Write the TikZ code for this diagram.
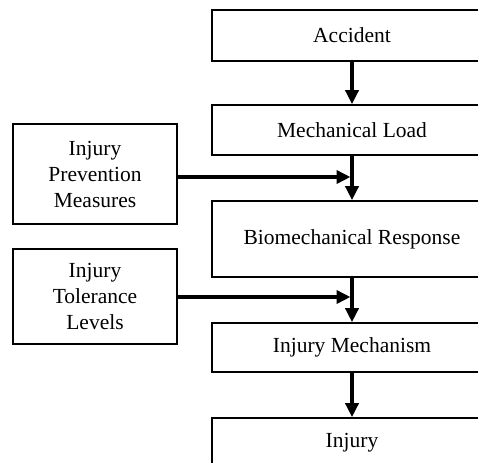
\documentclass[tikz,border=0pt]{standalone}
\usepackage{fontspec}
\setmainfont{Liberation Serif}
\usetikzlibrary{arrows.meta}
\begin{document}
\begin{tikzpicture}[x=1pt,y=-1pt,
  box/.style={draw,line width=1.6pt,fill=white,align=center,inner sep=0pt,
    font=\fontsize{21.5}{26}\selectfont},
  rbox/.style={box,minimum width=280pt},
  lbox/.style={box,minimum width=164pt},
  arr/.style={line width=3.5pt,-{Triangle[length=14pt,width=13pt]}}]
\useasboundingbox (0,0) rectangle (478,462);
\clip (0,0) rectangle (478,462);
\fill[white] (0,0) rectangle (478,462);
\node[rbox,minimum height=51pt] (acc) at (352,35.5) {Accident};
\node[rbox,minimum height=50pt] (mech) at (352,130) {Mechanical Load};
\node[rbox,minimum height=76pt] (bio) at (352,239) {Biomechanical Response};
\node[rbox,minimum height=49pt] (imech) at (352,347.5) {Injury Mechanism};
\node[rbox,minimum height=50pt] (inj) at (352,443) {Injury};
\node[lbox,minimum height=100pt] (ip) at (95,174) {Injury\\Prevention\\Measures};
\node[lbox,minimum height=95pt] (it) at (95,296.5) {Injury\\Tolerance\\Levels};
\coordinate (j1) at (352,177);
\coordinate (j2) at (352,297);
\draw[arr] (acc) -- (mech);
\draw[arr] (mech) -- (bio);
\draw[arr] (bio) -- (imech);
\draw[arr] (imech) -- (inj);
\draw[arr,shorten >=1.5pt] (ip.east |- j1) -- (j1);
\draw[arr,shorten >=1.5pt] (it.east |- j2) -- (j2);
\end{tikzpicture}
\end{document}
